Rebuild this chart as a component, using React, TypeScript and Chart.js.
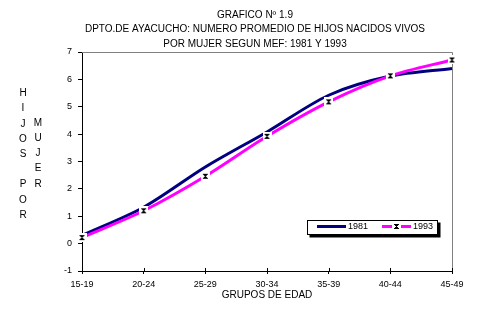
import React, { useEffect, useRef } from 'react';
import { Chart, registerables } from 'chart.js';

Chart.register(...registerables);

const categories = ['15-19', '20-24', '25-29', '30-34', '35-39', '40-44', '45-49'];
const series1981 = [0.3, 1.33, 2.8, 4.08, 5.42, 6.12, 6.4];
const series1993 = [0.22, 1.2, 2.46, 3.92, 5.18, 6.13, 6.71];
const seriesLabels = ['1981', '1993'];
const titleLines = [
  'GRAFICO Nº 1.9',
  'DPTO.DE AYACUCHO: NUMERO PROMEDIO DE HIJOS NACIDOS VIVOS',
  'POR MUJER SEGUN MEF: 1981 Y 1993',
];
const yTitleCol1 = 'HIJOS POR';
const yTitleCol2 = 'MUJER';
const xTitle = 'GRUPOS DE EDAD';
const yMin = -1;
const yMax = 7;
const yStep = 1;

const FONT = 'Arial, "Liberation Sans", sans-serif';

function makeStar(): HTMLCanvasElement {
  const c = document.createElement('canvas');
  c.width = 9;
  c.height = 9;
  const g = c.getContext('2d')!;
  g.fillStyle = '#ffffff';
  g.fillRect(0, 0, 9, 9);
  g.fillStyle = '#000000';
  const pts: number[][] = [
    [0, 0], [1, 0], [2, 0], [3, 0], [4, 0],
    [1, 1], [2, 1], [3, 1],
    [2, 2],
    [1, 3], [2, 3], [3, 3],
    [0, 4], [1, 4], [2, 4], [3, 4], [4, 4],
  ];
  pts.forEach(([x, y]) => g.fillRect(x + 2, y + 2, 1, 1));
  return c;
}

export default function App() {
  const ref = useRef<HTMLCanvasElement | null>(null);

  useEffect(() => {
    document.body.style.margin = '0';
    const canvas = ref.current;
    if (!canvas) return;
    const star = makeStar();

    const decor = {
      id: 'decor',
      beforeDatasetsDraw(chart: any) {
        const { ctx, chartArea: a } = chart;
        ctx.save();
        ctx.strokeStyle = '#808080';
        ctx.lineWidth = 1;
        ctx.beginPath();
        ctx.moveTo(Math.round(a.left), Math.round(a.top) + 0.5);
        ctx.lineTo(Math.round(a.right) + 0.5, Math.round(a.top) + 0.5);
        ctx.lineTo(Math.round(a.right) + 0.5, Math.round(a.bottom));
        ctx.stroke();
        // inner part of x ticks (crossing the axis)
        const xs = chart.scales.x;
        ctx.strokeStyle = '#000';
        ctx.beginPath();
        for (let i = 0; i < categories.length; i++) {
          const px = Math.round(xs.getPixelForValue(i)) + 0.5;
          ctx.moveTo(px, Math.round(a.bottom) - 3);
          ctx.lineTo(px, Math.round(a.bottom));
        }
        ctx.stroke();
        ctx.restore();
      },
      afterDraw(chart: any) {
        const { ctx, chartArea: a } = chart;
        ctx.save();
        ctx.fillStyle = '#000';
        ctx.textAlign = 'center';
        ctx.textBaseline = 'middle';
        ctx.font = `10px ${FONT}`;
        const titleY = [15, 29.5, 44];
        titleLines.forEach((t, i) => ctx.fillText(t, 255, titleY[i]));
        // x title
        ctx.fillText(xTitle, (a.left + a.right) / 2, 295);
        // y title, stacked letters
        const step = 15.2;
        yTitleCol1.split('').forEach((ch, i) => {
          if (ch !== ' ') ctx.fillText(ch, 23, 93.5 + i * step);
        });
        yTitleCol2.split('').forEach((ch, i) => {
          ctx.fillText(ch, 38, 123 + i * step);
        });

        // legend
        const lx = 307.5, ly = 220.5, lw = 130, lh = 14;
        ctx.fillStyle = '#000';
        ctx.fillRect(lx + 2, ly + 2, lw + 1, lh + 1);
        ctx.fillStyle = '#fff';
        ctx.fillRect(lx, ly, lw, lh);
        ctx.strokeStyle = '#000';
        ctx.lineWidth = 1;
        ctx.strokeRect(lx, ly, lw, lh);
        const ds = chart.data.datasets;
        const entries = [ds[1], ds[0]];
        const starts = [317, 382];
        const cy = 226.5;
        entries.forEach((d: any, i: number) => {
          const x0 = starts[i];
          ctx.strokeStyle = d.borderColor;
          ctx.lineWidth = 3;
          ctx.beginPath();
          ctx.moveTo(x0, cy);
          ctx.lineTo(x0 + 29, cy);
          ctx.stroke();
          if (d.pointRadius > 0) {
            ctx.drawImage(star, Math.round(x0 + 14.5 - 4.5), Math.round(cy - 4.5));
          }
          ctx.fillStyle = '#000';
          ctx.textAlign = 'left';
          ctx.font = `9px ${FONT}`;
          ctx.fillText(d.label, x0 + 31, cy);
        });
        ctx.restore();
      },
    };

    const chart = new Chart(canvas, {
      type: 'line',
      data: {
        labels: categories,
        datasets: [
          {
            label: seriesLabels[1],
            data: series1993,
            borderColor: '#ff00ff',
            backgroundColor: '#ff00ff',
            borderWidth: 3,
            tension: 0.3,
            pointStyle: star as any,
            pointRadius: 4,
            pointHoverRadius: 4,
            fill: false,
          },
          {
            label: seriesLabels[0],
            data: series1981,
            borderColor: '#000080',
            backgroundColor: '#000080',
            borderWidth: 3,
            tension: 0.3,
            pointRadius: 0,
            pointHoverRadius: 0,
            fill: false,
          },
        ],
      },
      options: {
        responsive: false,
        animation: false,
        devicePixelRatio: 1,
        layout: { padding: { top: 52, right: 32, left: 0, bottom: 0 } },
        plugins: {
          legend: { display: false },
          title: { display: false },
          tooltip: { enabled: false },
        },
        events: [],
        scales: {
          x: {
            type: 'category',
            offset: false,
            grid: { display: true, drawOnChartArea: false, drawTicks: true, tickLength: 3, color: '#000' },
            border: { display: true, color: '#000', width: 1 },
            ticks: {
              color: '#000',
              font: { family: FONT, size: 9 },
              padding: 5,
              maxRotation: 0,
              autoSkip: false,
            },
            afterFit(scale: any) {
              scale.height = 40;
            },
          },
          y: {
            min: yMin,
            max: yMax,
            grid: { display: true, drawOnChartArea: false, drawTicks: true, tickLength: 4, color: '#000' },
            border: { display: true, color: '#000', width: 1 },
            ticks: {
              stepSize: yStep,
              color: '#000',
              font: { family: FONT, size: 9 },
              padding: 6,
            },
            afterFit(scale: any) {
              scale.width = 82;
            },
          },
        },
      },
      plugins: [decor],
    });

    return () => chart.destroy();
  }, []);

  return (
    <div style={{ position: 'relative', width: 484, height: 311, background: '#fff' }}>
      <canvas ref={ref} width={484} height={311} style={{ display: 'block' }} />
    </div>
  );
}
